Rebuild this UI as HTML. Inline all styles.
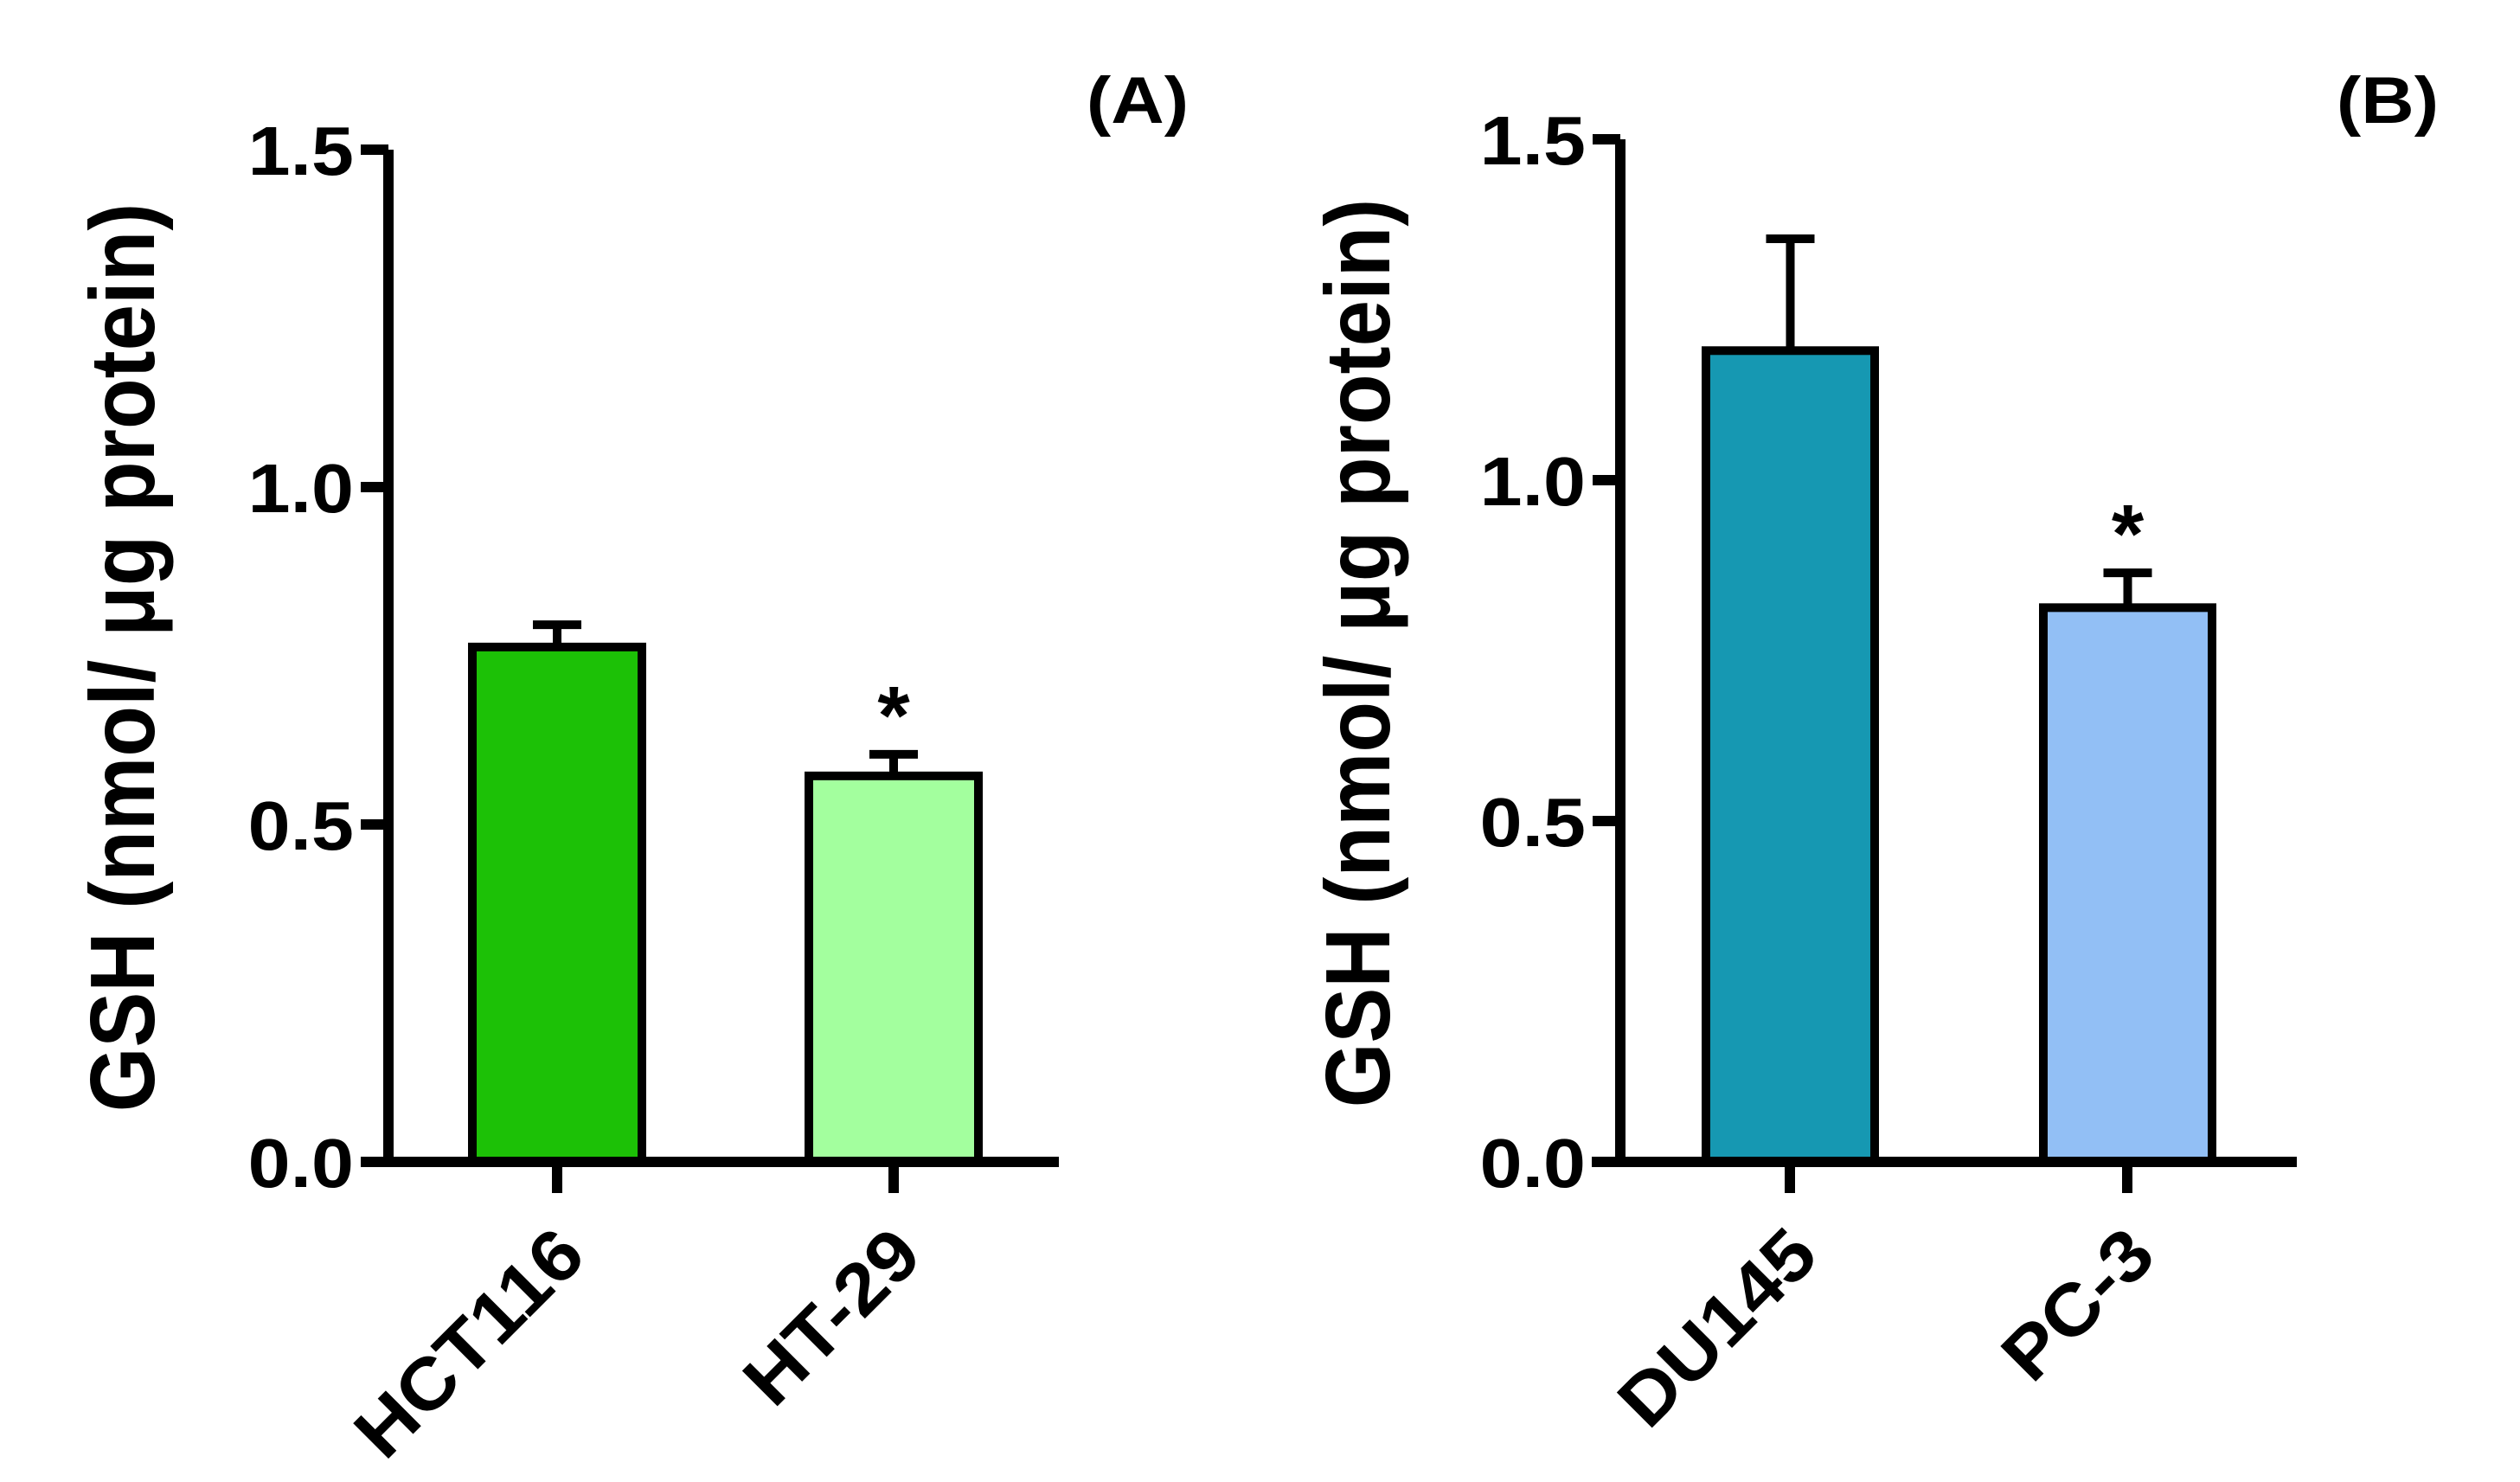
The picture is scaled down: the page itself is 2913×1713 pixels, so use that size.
<!DOCTYPE html>
<html><head><meta charset="utf-8"><style>
html,body{margin:0;padding:0;background:#fff;}
svg{display:block;font-family:"Liberation Sans",Arial,sans-serif;font-weight:bold;}
</style></head><body>
<svg id="chart" width="2913" height="1713" viewBox="0 0 2913 1713"></svg>
<script>
const categoriesA = ["HCT116", "HT-29"];
const valuesA = [0.763, 0.572];
const errorsA = [0.033, 0.032];
const starsA = [false, true];
const categoriesB = ["DU145", "PC-3"];
const valuesB = [1.190, 0.813];
const errorsB = [0.164, 0.051];
const starsB = [false, true];
const yTicks = [0.0, 0.5, 1.0, 1.5];
const yTickLabels = ["0.0", "0.5", "1.0", "1.5"];

const NS = "http://www.w3.org/2000/svg";
const svg = document.getElementById("chart");
function mk(tag, attrs, parent) {
  const e = document.createElementNS(NS, tag);
  for (const k in attrs) e.setAttribute(k, attrs[k]);
  (parent || svg).appendChild(e);
  return e;
}

function panel(cfg) {
  const g = mk("g", {});
  
  
  const y = v => cfg.y0 - v * cfg.unit;
  const n = cfg.cats.length;
  for (let i = 0; i < n; i++) {
    const x0 = cfg.barX[i], w = cfg.barW;
    const cx = x0 + w / 2;
    const err = mk("path", {d: `M${cx},${y(cfg.vals[i])} V${y(cfg.vals[i] + cfg.errs[i])} M${cx - 28},${y(cfg.vals[i] + cfg.errs[i])} H${cx + 28}`, stroke: "#000", "stroke-width": 10, fill: "none"}, g);
    
    
    const r = mk("rect", {x: x0, y: y(cfg.vals[i]), width: w, height: cfg.y0 - y(cfg.vals[i]), fill: cfg.colors[i], stroke: "#000", "stroke-width": 10}, g);
    
    
    if (cfg.stars[i]) {
      const s = mk("text", {x: cx, y: y(cfg.vals[i] + cfg.errs[i]) - 12, "text-anchor": "middle", "font-size": 96}, g);
      s.textContent = "*";
      
      
    }
    const t = mk("line", {x1: cfg.tickX[i], x2: cfg.tickX[i], y1: cfg.y0, y2: cfg.y0 + 36, stroke: "#000", "stroke-width": 12}, g);
    
    
    const lx = cfg.tickX[i] + 36, ly = cfg.y0 + 112;
    const lab = mk("text", {x: 0, y: 0, "text-anchor": "end", "font-size": 84, transform: `translate(${lx},${ly}) rotate(-45) scale(1.08,1)`}, g);
    lab.textContent = cfg.cats[i];
    
    
  }
  const ya = mk("line", {x1: cfg.axisX, x2: cfg.axisX, y1: y(1.5), y2: cfg.y0 + 6, stroke: "#000", "stroke-width": 12}, g);
  
  
  const xa = mk("line", {x1: cfg.xStart, x2: cfg.xEnd, y1: cfg.y0, y2: cfg.y0, stroke: "#000", "stroke-width": 12}, g);
  
  
  yTicks.forEach((v, k) => {
    const tk = mk("line", {x1: cfg.axisX - 32, x2: cfg.axisX, y1: y(v), y2: y(v), stroke: "#000", "stroke-width": 12}, g);
    
    
    const tl = mk("text", {x: 0, y: 0, "text-anchor": "end", "font-size": 80, transform: `translate(${cfg.axisX - 40},${y(v) + 29}) scale(1.1,1)`}, g);
    tl.textContent = yTickLabels[k];
    
    
  });
  const yt = mk("text", {x: 0, y: 0, "text-anchor": "middle", "font-size": 96, transform: `translate(${cfg.titleX},${cfg.titleY}) rotate(-90) scale(1,1.1)`}, g);
  yt.setAttribute("dominant-baseline", "middle");
  yt.textContent = "GSH (nmol/ \u03bcg protein)";
  
  
  const pl = mk("text", {x: 0, y: 0, "text-anchor": "middle", "font-size": 76, transform: `translate(${cfg.panelX},${cfg.panelY}) scale(1.12,1)`}, g);
  pl.textContent = cfg.panelLabel;
  
  
}

panel({name: "panel-a", cats: categoriesA, vals: valuesA, errs: errorsA, stars: starsA,
  colors: ["#1cc106", "#a3ff9e"], y0: 1343, unit: 780, axisX: 449, xStart: 417, xEnd: 1224,
  barX: [546, 935], barW: 196, tickX: [644, 1033], titleX: 150, titleY: 760,
  panelLabel: "(A)", panelX: 1315, panelY: 142});
panel({name: "panel-b", cats: categoriesB, vals: valuesB, errs: errorsB, stars: starsB,
  colors: ["#1698b2", "#92bff5"], y0: 1343, unit: 788, axisX: 1873, xStart: 1840, xEnd: 2655,
  barX: [1972, 2362], barW: 195, tickX: [2069, 2459], titleX: 1578, titleY: 755,
  panelLabel: "(B)", panelX: 2760, panelY: 142});
</script>
</body></html>
